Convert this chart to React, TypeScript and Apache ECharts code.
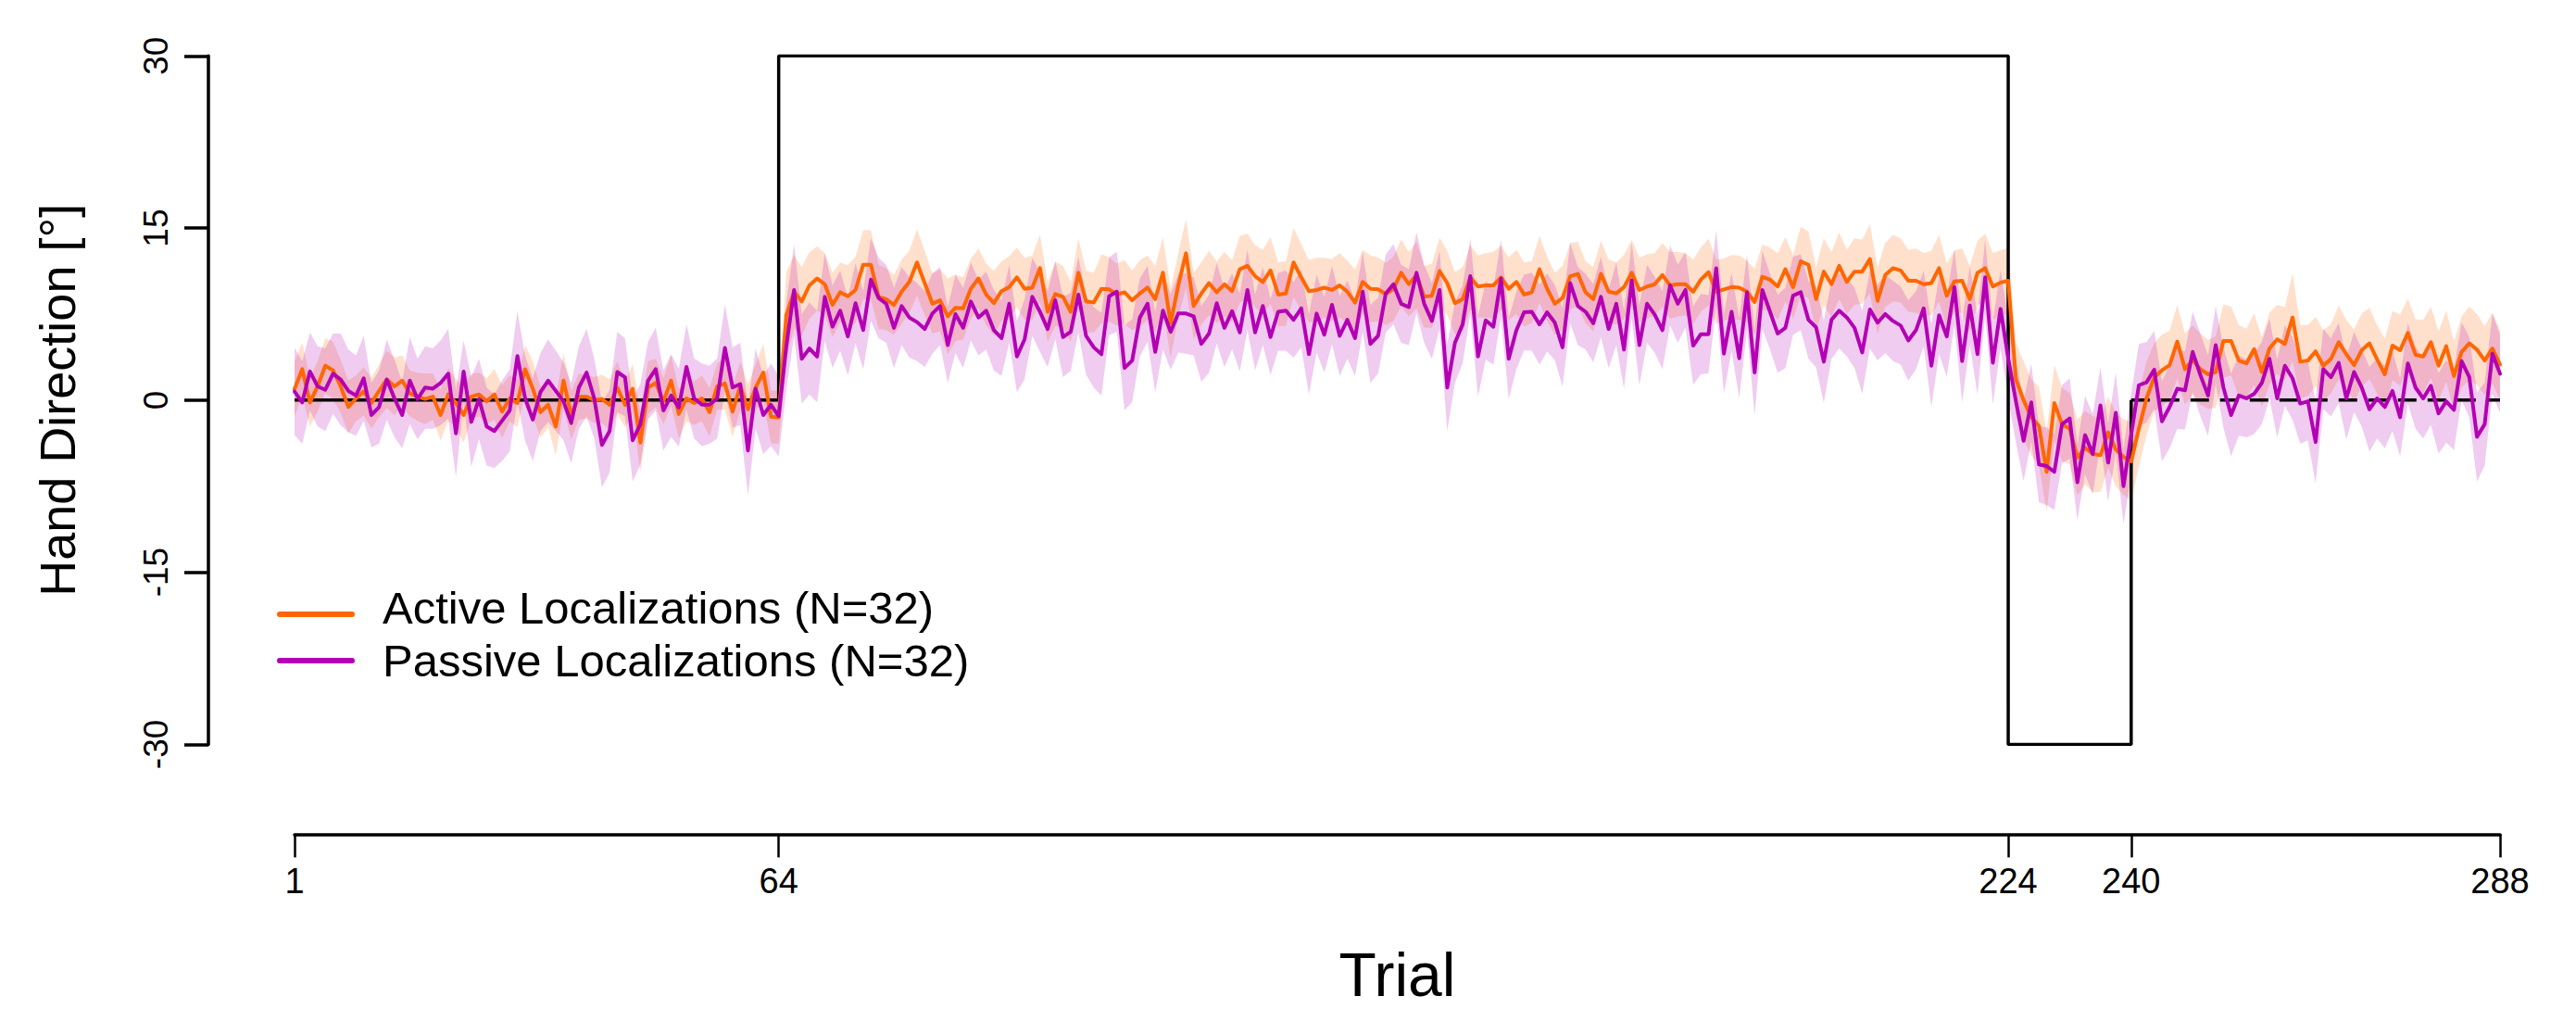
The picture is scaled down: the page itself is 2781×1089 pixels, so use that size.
import React, { useEffect, useRef } from 'react';
import * as echarts from 'echarts';

const FONT = 'Liberation Sans, Arial, Helvetica, sans-serif';

const trials: number[] = Array.from({ length: 288 }, (_, i) => i + 1);
const xTicks: number[] = [1, 64, 224, 240, 288];

// perturbation schedule
const schedX: number[] = [1, 64, 64, 224, 224, 240, 240];
const schedY: number[] = [0, 0, 30, 30, -30, -30, 0];
const washX: number[] = [240, 288];
const washY: number[] = [0, 0];

const activeMean: number[] = [
  0.97, 2.7, -0.2, 1.2, 3.0, 2.6, 1.2, -0.6, 0.15, 0.75, -0.25, 0.8, 1.8, 1.2, 1.7, 0.6,
  0.3, 0.1, 0.3, -1.3, 0.5, -0.25, -1.3, 0.3, 0.5, -0.1, 0.5, -1.0, 0.15, -0.25, 2.7, 1.0,
  -1.05, -0.4, -2.3, 1.7, -1.3, 0.3, 0.3, 0.0, 0.1, -0.4, 1.1, -0.4, 1.0, -3.7, 1.1, 1.5,
  -0.1, 1.7, -1.2, 0.15, -0.25, 0.15, -1.05, 1.2, 1.45, -1.0, 1.25, -0.8, 1.1, 2.4, -1.45, -1.5,
  7.4, 9.45, 8.6, 10.0, 10.6, 10.1, 8.3, 9.4, 9.05, 9.6, 11.8, 11.8, 9.0, 8.8, 8.3, 9.45,
  10.3, 12.0, 10.2, 8.4, 8.7, 7.3, 8.05, 8.0, 9.7, 10.6, 9.2, 8.45, 9.5, 9.85, 10.7, 9.7,
  9.8, 11.5, 7.7, 9.25, 9.0, 7.7, 11.1, 8.6, 8.5, 9.7, 9.65, 9.2, 9.4, 8.7, 9.3, 9.8,
  8.8, 11.1, 6.7, 10.0, 12.8, 8.2, 9.3, 10.2, 9.4, 10.1, 9.5, 11.4, 11.7, 10.8, 10.3, 11.3,
  9.2, 9.3, 12.0, 10.7, 9.5, 9.6, 9.8, 9.6, 10.0, 9.45, 8.5, 10.3, 9.7, 9.65, 9.25, 9.7,
  11.1, 10.1, 10.9, 9.0, 9.1, 11.25, 10.2, 8.45, 8.8, 10.7, 9.9, 10.0, 10.0, 10.7, 9.7, 10.3,
  9.2, 9.4, 11.4, 9.7, 8.4, 8.9, 10.8, 11.0, 9.4, 8.8, 11.0, 9.45, 9.3, 9.85, 11.1, 9.6,
  9.9, 10.1, 10.9, 10.0, 10.1, 10.1, 9.45, 10.5, 11.15, 9.45, 9.65, 9.85, 9.8, 9.45, 8.55, 10.75,
  10.5, 9.9, 11.4, 9.85, 12.1, 11.8, 8.8, 11.2, 10.1, 11.7, 10.3, 11.2, 11.2, 12.3, 8.65, 10.9,
  11.5, 11.3, 10.4, 10.4, 10.1, 10.2, 11.5, 9.1, 10.35, 10.4, 8.8, 11.1, 11.5, 9.9, 10.25, 10.4,
  1.8, 0.0, -1.5, -2.25, -6.25, -0.25, -2.1, -2.5, -5.0, -4.15, -4.7, -4.8, -2.8, -4.3, -4.95, -5.35,
  -2.5, 0.15, 2.0, 2.6, 3.05, 5.1, 2.7, 3.5, 2.7, 2.25, 2.45, 5.15, 5.15, 3.45, 3.2, 4.45,
  2.45, 4.5, 5.3, 4.9, 7.2, 3.35, 3.45, 4.25, 3.0, 3.6, 5.05, 4.0, 3.05, 4.35, 4.95, 3.55,
  2.25, 4.75, 4.35, 5.85, 3.95, 3.8, 5.05, 3.0, 4.7, 2.1, 4.2, 4.95, 4.4, 3.45, 4.5, 3.1,
];

const activeCI: number[] = [
  2.4, 2.3, 2.1, 2.2, 2.4, 2.5, 2.3, 2.3, 2.0, 2.1, 2.2, 2.3, 2.5, 2.5, 2.2, 2.0,
  2.1, 2.2, 2.0, 2.2, 2.3, 2.1, 2.4, 2.0, 1.9, 2.0, 2.2, 2.3, 2.0, 2.1, 2.1, 2.4,
  2.2, 2.0, 2.5, 2.4, 2.1, 2.0, 1.9, 2.0, 2.1, 2.2, 2.3, 2.0, 2.2, 2.6, 2.3, 2.1,
  2.0, 2.2, 2.1, 2.0, 1.9, 2.0, 2.1, 2.0, 2.3, 2.2, 2.1, 2.2, 2.0, 2.5, 2.3, 2.3,
  3.8, 3.2, 3.0, 2.9, 2.8, 2.7, 2.8, 2.6, 2.7, 2.9, 3.0, 3.0, 2.8, 2.7, 2.6, 2.8,
  2.7, 2.9, 2.8, 2.6, 2.7, 3.3, 2.9, 2.7, 2.6, 2.6, 2.7, 2.8, 2.6, 2.7, 2.6, 2.7,
  2.8, 2.9, 2.6, 2.8, 2.7, 2.6, 3.0, 2.7, 2.6, 3.0, 2.8, 2.7, 2.8, 2.6, 2.9, 2.8,
  2.9, 3.1, 3.0, 2.8, 3.0, 2.9, 2.7, 2.8, 2.7, 2.8, 2.7, 2.9, 2.8, 2.7, 2.8, 2.9,
  2.8, 2.8, 3.0, 2.9, 2.7, 2.8, 2.6, 2.7, 2.8, 2.7, 2.9, 2.8, 2.9, 2.8, 2.7, 2.8,
  2.9, 2.8, 2.9, 2.7, 2.8, 2.9, 2.8, 2.7, 2.8, 2.8, 2.7, 2.8, 2.9, 2.8, 2.7, 2.8,
  2.8, 2.7, 2.9, 2.8, 2.7, 2.8, 2.9, 2.8, 2.7, 2.8, 2.9, 2.8, 2.7, 2.8, 2.9, 2.8,
  2.8, 2.7, 2.8, 2.9, 2.8, 2.7, 2.8, 2.8, 2.9, 2.8, 2.7, 2.8, 2.8, 2.7, 2.9, 2.8,
  2.8, 2.9, 2.8, 2.8, 3.0, 2.9, 2.8, 2.9, 2.8, 2.9, 2.8, 2.9, 2.8, 3.0, 2.9, 2.8,
  2.9, 2.8, 2.7, 2.8, 2.7, 2.8, 2.9, 2.8, 2.7, 2.8, 2.9, 2.8, 3.0, 2.9, 2.8, 2.9,
  3.2, 3.4, 3.3, 3.4, 3.5, 3.3, 3.2, 3.1, 3.3, 3.2, 3.3, 3.2, 3.1, 3.2, 3.3, 3.4,
  3.3, 3.2, 3.0, 3.1, 3.0, 3.2, 3.1, 3.0, 3.1, 3.0, 3.1, 3.2, 3.0, 3.1, 3.0, 3.1,
  3.0, 3.1, 3.0, 3.2, 3.8, 3.2, 3.1, 3.0, 3.1, 3.0, 3.2, 3.0, 3.1, 3.2, 3.1, 3.0,
  3.1, 3.0, 3.1, 3.0, 3.1, 3.2, 3.1, 3.0, 3.1, 3.0, 3.1, 3.2, 3.1, 3.0, 3.1, 3.0,
];

const passiveMean: number[] = [
  0.75, -0.2, 2.5, 1.2, 0.9, 2.3, 1.8, 0.8, 0.4, 1.9, -1.3, -0.6, 1.8, 0.15, -1.3, 1.7,
  0.1, 1.1, 1.0, 1.5, 2.3, -2.9, 2.5, -1.9, 0.1, -2.3, -2.7, -1.8, -0.9, 3.85, 0.15, -1.7,
  0.7, 1.7, 0.8, -0.1, -2.0, 1.1, 2.4, 0.15, -3.9, -2.7, 2.45, 2.0, -3.5, -2.1, 1.7, 2.7,
  -0.9, 0.4, -0.65, 2.9, 0.15, -0.4, -0.4, 0.15, 4.55, 1.1, 1.4, -4.4, 1.0, -1.3, -0.4, -1.4,
  4.7, 9.6, 3.6, 4.5, 3.8, 9.0, 6.4, 7.8, 5.55, 8.45, 6.1, 10.5, 8.9, 8.4, 6.3, 8.2,
  7.2, 6.8, 6.2, 7.55, 8.2, 4.8, 7.5, 6.3, 8.6, 7.2, 7.8, 6.1, 5.4, 8.4, 3.8, 5.3,
  9.0, 7.7, 6.2, 8.7, 5.5, 5.95, 9.2, 5.6, 4.6, 4.0, 9.05, 9.45, 2.8, 3.45, 7.2, 8.4,
  4.2, 7.8, 5.95, 7.55, 7.55, 7.3, 4.9, 5.8, 8.45, 6.3, 7.75, 5.9, 9.6, 5.9, 8.2, 5.5,
  7.7, 7.8, 7.0, 8.0, 4.0, 7.55, 5.7, 8.3, 5.6, 7.0, 5.4, 9.45, 4.9, 5.6, 9.3, 10.1,
  8.4, 8.1, 11.1, 8.4, 6.9, 9.6, 1.1, 5.0, 6.6, 10.8, 3.8, 6.95, 6.4, 10.6, 3.6, 6.1,
  7.65, 7.7, 6.6, 7.65, 6.75, 4.6, 10.2, 8.2, 7.7, 6.7, 9.0, 6.2, 8.4, 4.4, 10.45, 4.8,
  8.4, 7.45, 6.1, 10.0, 8.4, 9.6, 4.75, 5.75, 5.75, 11.5, 4.05, 7.7, 3.65, 9.4, 2.4, 9.6,
  7.7, 5.8, 6.3, 9.1, 9.4, 7.0, 6.35, 3.35, 7.0, 7.8, 7.2, 6.3, 4.15, 7.9, 6.75, 7.5,
  6.9, 6.5, 5.2, 6.1, 8.0, 3.0, 7.4, 5.55, 9.85, 3.4, 8.25, 4.0, 10.7, 3.25, 7.95, 3.65,
  -0.1, -3.55, -0.2, -5.6, -5.75, -6.25, -2.1, -1.6, -7.15, -3.05, -4.7, -0.45, -5.45, -1.1, -7.5, -3.0,
  1.3, 1.55, 2.65, -1.85, -0.6, 1.0, 0.85, 4.2, 2.2, 0.4, 4.8, 1.1, -1.3, 0.4, 0.15, 0.55,
  1.5, 3.6, 0.15, 3.0, 1.9, -0.3, -0.1, -3.65, 2.7, 2.0, 3.25, 0.15, 2.45, 1.1, -0.8, 0.15,
  -0.6, 0.8, -1.5, 3.2, 1.1, 0.15, 1.25, -1.15, -0.1, -0.85, 3.4, 2.0, -3.2, -2.1, 4.05, 2.3,
];

const passiveCI: number[] = [
  3.8, 3.6, 3.4, 3.5, 3.6, 3.5, 4.0, 3.6, 3.5, 3.7, 2.8, 3.2, 3.5, 3.4, 2.9, 3.8,
  3.5, 3.6, 3.5, 3.7, 3.9, 3.8, 2.7, 3.9, 3.5, 3.4, 3.2, 3.5, 3.6, 3.9, 3.7, 3.6,
  3.4, 3.6, 3.5, 3.4, 3.5, 3.6, 3.8, 3.5, 3.7, 3.6, 3.5, 3.4, 3.6, 3.5, 3.4, 3.6,
  3.5, 3.6, 3.4, 3.7, 3.5, 3.6, 3.4, 3.5, 3.8, 3.5, 3.6, 3.9, 3.5, 3.4, 3.6, 3.5,
  3.8, 4.0, 3.9, 4.0, 4.0, 3.8, 3.6, 3.5, 3.4, 3.5, 3.4, 3.6, 3.5, 3.4, 3.5, 3.4,
  3.5, 3.4, 3.3, 3.5, 3.4, 3.3, 3.4, 3.5, 3.4, 3.3, 3.4, 3.5, 3.3, 3.4, 3.1, 3.5,
  3.4, 3.5, 3.3, 3.4, 3.5, 3.4, 3.3, 3.4, 3.5, 3.6, 3.4, 3.5, 3.7, 3.6, 3.4, 3.3,
  3.5, 3.4, 3.3, 3.4, 3.5, 3.4, 3.3, 3.4, 3.5, 3.4, 3.3, 3.4, 3.5, 3.3, 3.4, 3.3,
  3.4, 3.5, 3.3, 3.4, 3.5, 3.4, 3.3, 3.4, 3.5, 3.4, 3.3, 3.5, 3.4, 3.3, 3.4, 3.5,
  3.4, 3.3, 3.5, 3.4, 3.3, 3.4, 3.8, 3.5, 3.4, 3.3, 3.5, 3.4, 3.3, 3.4, 3.5, 3.4,
  3.3, 3.4, 3.5, 3.4, 3.3, 3.4, 3.5, 3.4, 3.3, 3.4, 3.5, 3.4, 3.6, 3.4, 3.3, 3.5,
  3.4, 3.3, 3.4, 3.5, 3.4, 3.3, 3.4, 3.5, 3.4, 3.3, 3.5, 3.4, 3.5, 3.3, 3.7, 3.4,
  3.3, 3.4, 3.5, 3.4, 3.3, 3.4, 3.5, 3.6, 3.4, 3.3, 3.4, 3.5, 3.6, 3.4, 3.3, 3.4,
  3.5, 3.4, 3.5, 3.4, 3.3, 3.6, 3.4, 3.5, 3.3, 3.6, 3.4, 3.5, 3.3, 3.6, 3.4, 3.5,
  3.6, 3.5, 3.4, 3.3, 3.4, 3.3, 3.4, 3.5, 3.3, 3.4, 3.5, 3.3, 3.4, 3.5, 3.3, 3.6,
  3.6, 3.5, 3.4, 3.5, 3.6, 3.5, 3.4, 3.5, 3.6, 3.5, 3.4, 3.5, 3.6, 3.5, 3.4, 3.5,
  3.6, 3.5, 3.4, 3.5, 3.6, 3.5, 3.4, 3.6, 3.5, 3.4, 3.5, 3.6, 3.5, 3.4, 3.7, 3.5,
  3.6, 3.5, 3.4, 3.5, 3.6, 3.5, 3.4, 3.5, 3.6, 3.5, 3.4, 3.5, 3.9, 3.6, 3.5, 3.4,
];

const seriesNames: string[] = ['Active Localizations (N=32)', 'Passive Localizations (N=32)'];
const ORANGE = '#ff6600';
const PURPLE = '#b400b4';

function band(mean: number[], ci: number[], fill: string) {
  const hi = mean.map((v, i) => v + ci[i]);
  const lo = mean.map((v, i) => v - ci[i]);
  return {
    type: 'custom',
    silent: true,
    data: [[1, 0]],
    renderItem: (_params: any, api: any) => {
      const pts: number[][] = [];
      for (let i = 0; i < trials.length; i++) pts.push(api.coord([trials[i], hi[i]]));
      for (let i = trials.length - 1; i >= 0; i--) pts.push(api.coord([trials[i], lo[i]]));
      return { type: 'polygon', shape: { points: pts }, style: { fill } };
    },
  };
}

export default function App() {
  const ref = useRef<HTMLDivElement>(null);
  useEffect(() => {
    if (!ref.current) return;
    const chart = echarts.init(ref.current, undefined, { renderer: 'svg' });
    const option: any = {
      animation: false,
      backgroundColor: '#ffffff',
      grid: { left: 318, right: 82, top: 60.3, bottom: 285.6, containLabel: false, outerBoundsMode: 'none' },
      xAxis: {
        type: 'value',
        min: 1,
        max: 288,
        offset: 97,
        name: 'Trial',
        nameLocation: 'middle',
        nameGap: 119,
        nameTextStyle: { fontSize: 66, color: '#000', fontFamily: FONT },
        axisLine: { show: true, onZero: false, lineStyle: { color: '#000', width: 3.5 } },
        axisTick: { show: true, customValues: xTicks, length: 25, lineStyle: { color: '#000', width: 2.5 } },
        axisLabel: { customValues: xTicks, fontSize: 38, color: '#000', margin: 32, fontFamily: FONT },
        splitLine: { show: false },
      },
      yAxis: {
        type: 'value',
        min: -30,
        max: 30,
        interval: 15,
        offset: 93,
        name: 'Hand Direction [°]',
        nameLocation: 'middle',
        nameGap: 136,
        nameTextStyle: { fontSize: 54, color: '#000', fontFamily: FONT },
        axisLine: { show: true, onZero: false, lineStyle: { color: '#000', width: 3.5 } },
        axisTick: { show: true, length: 26, lineStyle: { color: '#000', width: 3.5 } },
        axisLabel: { rotate: 90, fontSize: 37, color: '#000', margin: 38, fontFamily: FONT },
        splitLine: { show: false },
      },
      series: [
        {
          type: 'line',
          silent: true,
          symbol: 'none',
          data: schedX.map((x, i) => [x, schedY[i]]),
          lineStyle: { color: '#000', width: 3.5 },
        },
        {
          type: 'line',
          silent: true,
          symbol: 'none',
          data: washX.map((x, i) => [x, washY[i]]),
          lineStyle: { color: '#000', width: 3.5, type: [20, 12] },
        },
        band(activeMean, activeCI, 'rgba(255,102,0,0.2)'),
        {
          name: seriesNames[0],
          type: 'line',
          silent: true,
          symbol: 'none',
          data: trials.map((t, i) => [t, activeMean[i]]),
          lineStyle: { color: ORANGE, width: 4, join: 'round', cap: 'round' },
        },
        band(passiveMean, passiveCI, 'rgba(180,0,180,0.2)'),
        {
          name: seriesNames[1],
          type: 'line',
          silent: true,
          symbol: 'none',
          data: trials.map((t, i) => [t, passiveMean[i]]),
          lineStyle: { color: PURPLE, width: 4, join: 'round', cap: 'round' },
        },
      ],
      graphic: [
        { type: 'line', shape: { x1: 302, y1: 663, x2: 380, y2: 663 }, style: { stroke: ORANGE, lineWidth: 6, lineCap: 'round' } },
        { type: 'text', x: 413, y: 656, style: { text: seriesNames[0], fontSize: 49, fontFamily: FONT, fill: '#000', verticalAlign: 'middle' } },
        { type: 'line', shape: { x1: 302, y1: 713, x2: 380, y2: 713 }, style: { stroke: PURPLE, lineWidth: 6, lineCap: 'round' } },
        { type: 'text', x: 413, y: 713, style: { text: seriesNames[1], fontSize: 49, fontFamily: FONT, fill: '#000', verticalAlign: 'middle' } },
      ],
    };
    chart.setOption(option);
    return () => chart.dispose();
  }, []);
  return (
    <div
      ref={ref}
      style={{ position: 'fixed', left: 0, top: 0, width: 2781, height: 1089, background: '#fff' }}
    />
  );
}
